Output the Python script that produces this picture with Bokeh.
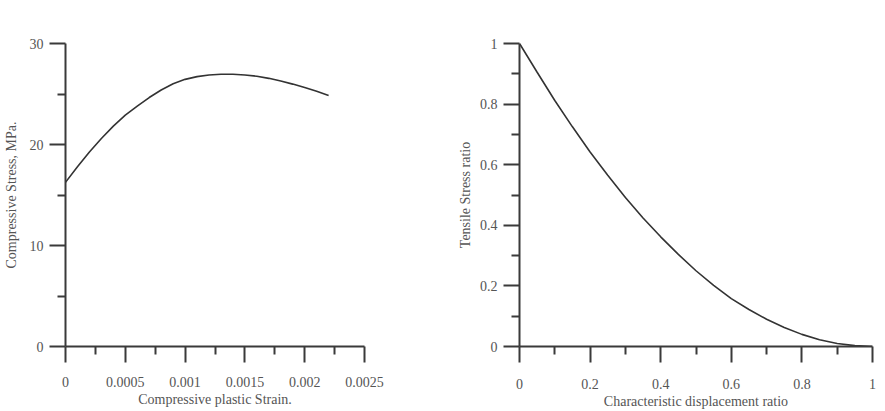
from bokeh.plotting import figure
from bokeh.layouts import row
from bokeh.models import FixedTicker, CustomJSTickFormatter, Range1d
from bokeh.embed import file_html
from bokeh.resources import INLINE

# Compressive behaviour: plastic strain vs stress (MPa)
comp_strain = [0, 0.0001, 0.0002, 0.0003, 0.0004, 0.0005, 0.0006, 0.0007,
               0.0008, 0.0009, 0.001, 0.0011, 0.0012, 0.0013, 0.0014,
               0.0015, 0.0016, 0.0017, 0.0018, 0.0019, 0.002, 0.0021, 0.0022]
comp_stress = [16.25, 17.8, 19.25, 20.6, 21.82, 22.9, 23.8, 24.65,
               25.4, 26.02, 26.45, 26.72, 26.88, 26.96, 26.96,
               26.88, 26.76, 26.55, 26.28, 25.98, 25.65, 25.28, 24.86]

# Tensile softening: characteristic displacement ratio vs stress ratio
disp_ratio = [0, 0.05, 0.1, 0.15, 0.2, 0.25, 0.3, 0.35, 0.4, 0.45, 0.5,
              0.55, 0.6, 0.65, 0.7, 0.75, 0.8, 0.85, 0.9, 0.95, 1.0]
stress_ratio = [1.0, 0.905, 0.812, 0.725, 0.642, 0.565, 0.492, 0.424, 0.362,
                0.304, 0.25, 0.202, 0.158, 0.122, 0.09, 0.063, 0.04, 0.022,
                0.01, 0.003, 0.0]

comp_x_ticks = [0, 0.0005, 0.001, 0.0015, 0.002, 0.0025]
comp_x_minor = [0.00025, 0.00075, 0.00125, 0.00175, 0.00225]
comp_y_ticks = [0, 10, 20, 30]
comp_y_minor = [5, 15, 25]
ten_ticks = [0, 0.2, 0.4, 0.6, 0.8, 1]
ten_minor = [0.1, 0.3, 0.5, 0.7, 0.9]

FONT = "Liberation Serif"
TEXT = "#555555"
AXIS = "#3a3a3a"
CURVE = "#333333"

fmt = CustomJSTickFormatter(code="return String(parseFloat(tick.toPrecision(8)));")


def style(p, xt, xm, yt, ym, xlabel, ylabel, x_std, y_std, y_title_std):
    p.xaxis.ticker = FixedTicker(ticks=xt, minor_ticks=xm)
    p.yaxis.ticker = FixedTicker(ticks=yt, minor_ticks=ym)
    p.xaxis.formatter = fmt
    p.yaxis.formatter = fmt
    p.xaxis.axis_label = xlabel
    p.yaxis.axis_label = ylabel
    for ax in (p.xaxis, p.yaxis):
        ax.axis_line_color = AXIS
        ax.axis_line_width = 2
        ax.major_tick_line_color = AXIS
        ax.major_tick_line_width = 2
        ax.minor_tick_line_color = AXIS
        ax.minor_tick_line_width = 2
        ax.major_tick_in = 0
        ax.minor_tick_in = 0
        ax.major_label_text_font = FONT
        ax.major_label_text_font_size = "14px"
        ax.major_label_text_color = TEXT
        ax.axis_label_text_font = FONT
        ax.axis_label_text_font_size = "14px"
        ax.axis_label_text_font_style = "normal"
        ax.axis_label_text_color = TEXT
    p.xaxis.major_tick_out = 16
    p.xaxis.minor_tick_out = 8
    p.yaxis.major_tick_out = 16
    p.yaxis.minor_tick_out = 8
    p.xaxis.major_label_standoff = x_std
    p.yaxis.major_label_standoff = y_std
    p.xaxis.axis_label_standoff = 2
    p.yaxis.axis_label_standoff = y_title_std
    p.xgrid.visible = False
    p.ygrid.visible = False
    p.outline_line_color = None


p1 = figure(width=404, height=411, output_backend="svg", toolbar_location=None,
            x_range=Range1d(0, 0.0025), y_range=Range1d(0, 30),
            min_border_left=61, min_border_right=40,
            min_border_top=43, min_border_bottom=60)
style(p1, comp_x_ticks, comp_x_minor, comp_y_ticks, comp_y_minor,
      "Compressive plastic Strain.", "Compressive Stress, MPa.", 14, 6, 8)
p1.line(comp_strain, comp_stress, line_color=CURVE, line_width=1.6)

p2 = figure(width=481, height=411, output_backend="svg", toolbar_location=None,
            x_range=Range1d(0, 1), y_range=Range1d(0, 1),
            min_border_left=115, min_border_right=13,
            min_border_top=7, min_border_bottom=65)
style(p2, ten_ticks, ten_minor, ten_ticks, ten_minor,
      "Characteristic displacement ratio", "Tensile Stress ratio", 16, 6, 4)
p2.line(disp_ratio, stress_ratio, line_color=CURVE, line_width=1.6)

layout = row(p1, p2)
open("out.html", "w").write(file_html(layout, INLINE))
